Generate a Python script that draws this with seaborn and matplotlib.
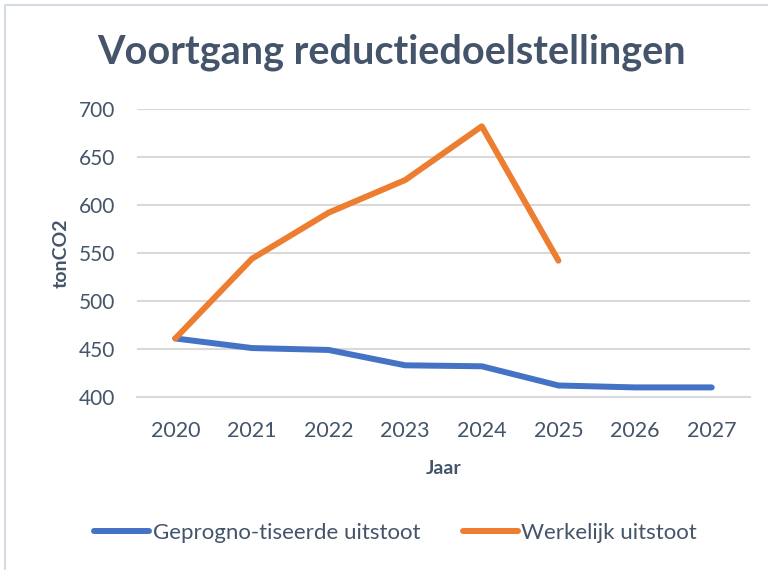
import matplotlib
matplotlib.use("Agg")
import matplotlib.pyplot as plt
import numpy as np
import pandas as pd
import seaborn as sns
from matplotlib.patches import Rectangle
from matplotlib.ticker import FixedLocator

JAREN = ["2020", "2021", "2022", "2023", "2024", "2025", "2026", "2027"]
GEPROGNOTISEERD = [461, 451, 449, 433, 432, 412, 410, 410]
WERKELIJK = [461, 544, 592, 626, 682, 542, np.nan, np.nan]
REEKSEN = ["Geprogno-tiseerde uitstoot", "Werkelijk uitstoot"]
KLEUREN = ["#4472C4", "#ED7D31"]
Y_TICKS = [400, 450, 500, 550, 600, 650, 700]

TEXT_COLOR = "#44546A"
GRID_COLOR = "#D9D9D9"

df = pd.DataFrame({
    "jaar": JAREN * 2,
    "waarde": GEPROGNOTISEERD + WERKELIJK,
    "reeks": [REEKSEN[0]] * len(JAREN) + [REEKSEN[1]] * len(JAREN),
})

sns.set_theme(style="white")
plt.rcParams["font.family"] = ["Lato", "DejaVu Sans"]

fig = plt.figure(figsize=(7.68, 5.70), dpi=100)
ax = fig.add_axes([137 / 768, 1 - 397 / 570, (750 - 137) / 768, (397 - 109) / 570])

# light border around the chart area
fig.patches.append(Rectangle((5 / 768, -0.05), 1.1, 1 - 5 / 570 + 0.05,
                             transform=fig.transFigure, fill=False,
                             edgecolor="#D6DCE5", linewidth=1.5))

sns.lineplot(data=df, x="jaar", y="waarde", hue="reeks", palette=KLEUREN,
             linewidth=4.3, ax=ax, legend=False, sort=False)
for line in ax.lines:
    line.set_solid_capstyle("round")
    line.set_solid_joinstyle("round")

ax.set_xlim(-0.5, len(JAREN) - 0.5)
ax.set_ylim(Y_TICKS[0], Y_TICKS[-1])
ax.set_yticks(Y_TICKS)
ax.set_xticks(range(len(JAREN)))
ax.set_xticklabels(JAREN)
ax.xaxis.set_minor_locator(FixedLocator(np.arange(-0.5, len(JAREN), 1.0)))

ax.grid(axis="y", color=GRID_COLOR, linewidth=1.5)
ax.set_axisbelow(True)
for side in ["top", "right", "left"]:
    ax.spines[side].set_visible(False)
ax.spines["bottom"].set_color(GRID_COLOR)
ax.spines["bottom"].set_linewidth(1.5)

ax.tick_params(axis="x", which="major", length=0, pad=17, labelsize=15.5, labelcolor=TEXT_COLOR)
ax.tick_params(axis="x", which="minor", length=7, width=1.5, color=GRID_COLOR, direction="out")
ax.tick_params(axis="y", length=0, pad=16, labelsize=15, labelcolor=TEXT_COLOR)

ax.set_xlabel("Jaar", fontsize=14, fontweight="bold", color=TEXT_COLOR, labelpad=14)
ax.set_ylabel("tonCO2", fontsize=14, fontweight="bold", color=TEXT_COLOR, labelpad=6)

fig.text(0.51, 1 - 52 / 570, "Voortgang reductiedoelstellingen", ha="center", va="center",
         fontsize=28.5, fontweight="bold", color=TEXT_COLOR)

handles = [plt.Line2D([], [], color=c, linewidth=4.3, solid_capstyle="round") for c in KLEUREN]
fig.legend(handles, REEKSEN, loc="center", bbox_to_anchor=(0.515, 1 - 533 / 570), ncol=2,
           frameon=False, fontsize=16, labelcolor=TEXT_COLOR, handlelength=2.5,
           handletextpad=0.15, columnspacing=1.9)

fig.savefig("out.png", dpi=100)
